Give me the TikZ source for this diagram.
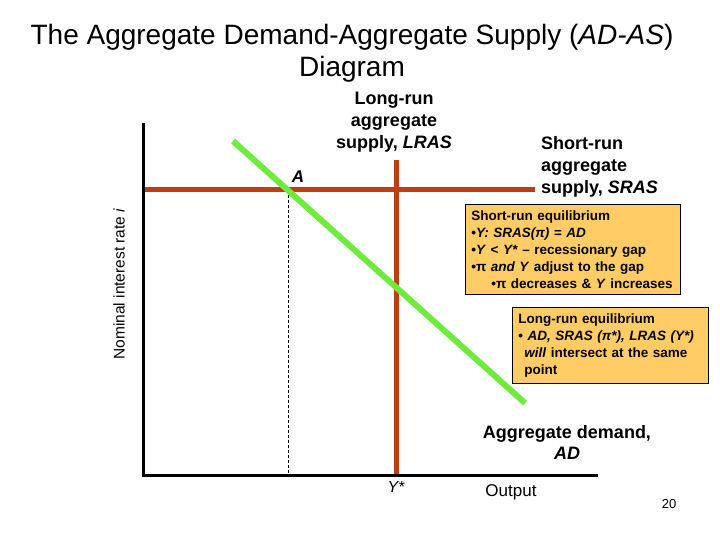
\documentclass[tikz,border=0pt]{standalone}
\usepackage{fontspec}
\setmainfont{Liberation Sans}
\begin{document}
\begin{tikzpicture}[x=1pt,y=-1pt,
  axis/.style={line width=3pt,black},
  rust/.style={line width=5pt,draw={rgb,255:red,190;green,62;blue,20}},
  adline/.style={line width=6pt,draw={rgb,255:red,110;green,235;blue,60}},
  lbl/.style={font=\fontsize{18}{22}\selectfont\bfseries,align=center,inner sep=0pt},
  infobox/.style={draw=black,line width=0.8pt,fill={rgb,255:red,255;green,204;blue,102},
     font=\fontsize{13.5}{17}\selectfont\bfseries,align=left,anchor=north west,inner xsep=6pt,inner ysep=6pt}]
\useasboundingbox (0,0) rectangle (720,540);
% title
\node[font=\fontsize{28}{32}\selectfont,align=center,inner sep=0pt] (title) at (352,53)
  {The Aggregate Demand-Aggregate Supply (\textit{AD-AS})\\Diagram};
% coordinates
\coordinate (o) at (143,475);
\coordinate (ytop) at (143,123);
\coordinate (xend) at (598,475);
\coordinate (srasL) at (143,190);
\coordinate (srasR) at (535,190);
\coordinate (lrasT) at (396,160);
\coordinate (lrasB) at (396,475);
\coordinate (adT) at (233,141);
\coordinate (adB) at (525,403);
\coordinate (A) at (288,190);
\coordinate (Ab) at (288,475);
% lines
\draw[black,line width=0.6pt,dash pattern=on 3pt off 2pt] (A) -- (Ab);
\draw[rust] (srasL) -- (srasR);
\draw[rust] (lrasT) -- (lrasB);
\draw[adline] (adT) -- (adB);
\draw[axis] (ytop) -- (o) -- (xend);
% labels
\node[lbl] (lraslbl) at (394,122) {Long-run\\aggregate\\supply, \textit{LRAS}};
\node[lbl,align=left,anchor=west] (sraslbl) at (541,167) {Short-run\\aggregate\\supply, \textit{SRAS}};
\node[lbl,font=\fontsize{17}{19}\selectfont\bfseries\itshape] (Alab) at (298,177) {A};
\node[lbl,font=\fontsize{18}{21}\selectfont\bfseries] (adlbl) at (567,442) {Aggregate demand,\\\textit{AD}};
\node[font=\fontsize{16}{19}\selectfont\itshape,inner sep=0pt] (ystar) at (396,487) {Y*};
\node[font=\fontsize{17}{19}\selectfont,inner sep=0pt] (output) at (511,492) {Output};
\node[font=\fontsize{13}{16}\selectfont,inner sep=0pt] (page) at (669,504) {20};
\node[font=\fontsize{15.5}{18}\selectfont,rotate=90,inner sep=0pt] (ylab) at (119,284) {Nominal interest rate \textit{i}};
% boxes
\node[infobox,text width=203pt] (box1) at (465,204)
  {Short-run equilibrium\\
   •\textit{Y: SRAS(π) = AD}\\
   •\textit{Y} < \textit{Y*} – recessionary gap\\
   •π \textit{and Y} adjust to the gap\\
   \mbox{\hspace*{20pt}•π decreases \& \textit{Y} increases}};
\node[infobox,text width=184pt] (box2) at (512,307)
  {Long-run equilibrium\\
   \mbox{• \textit{AD, SRAS (π*), LRAS (Y*)}}\\
   \hspace*{6pt}\textit{will} intersect at the same\\
   \hspace*{6pt}point};
\end{tikzpicture}
\end{document}
